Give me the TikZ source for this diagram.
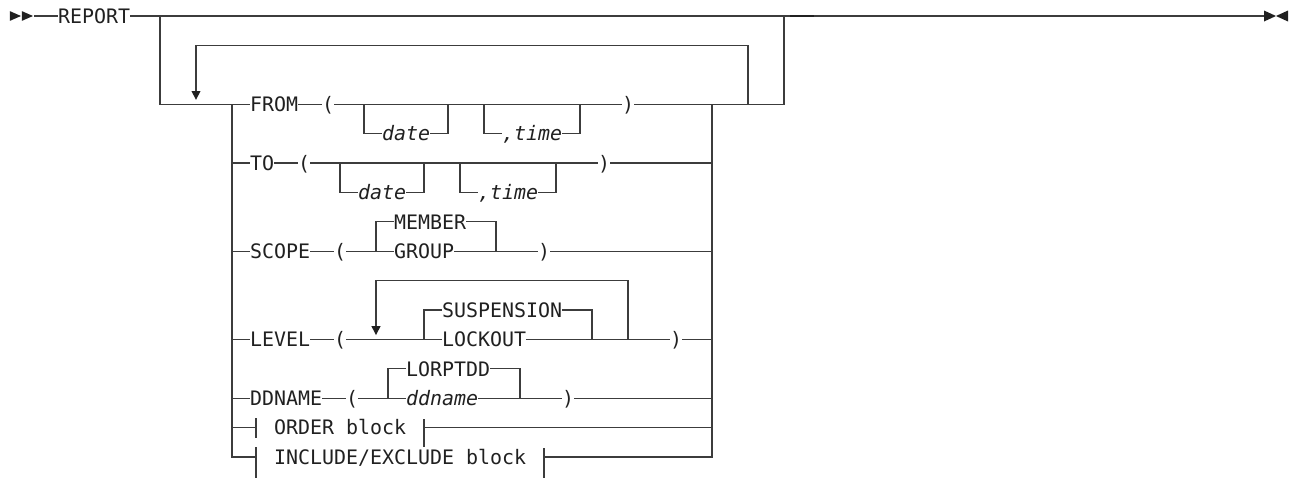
\documentclass[tikz,border=0pt]{standalone}
\usepackage{fontspec}
\newfontfamily\mono{DejaVu Sans Mono}
\definecolor{railc}{HTML}{3C3C3C}
\definecolor{txtc}{HTML}{202020}
\tikzset{
  rail/.style={draw=railc, line width=1.3pt, line join=miter},
  lbl/.style={font=\mono\fontsize{19.93}{24}\selectfont, text=txtc, inner sep=0pt,
              text height=14.4pt, text depth=0pt, anchor=west},
  var/.style={lbl, font=\mono\itshape\fontsize{19.93}{24}\selectfont},
  tip/.style={fill=txtc, draw=none},
}
\begin{document}
\begin{tikzpicture}[x=12pt, y=-29.4pt]
\useasboundingbox (-19.33333,-0.54422) rectangle (89,15.68027);

% ---------------- main line ----------------
\coordinate (st) at (-18.5,0);
\fill[tip] ([xshift=0pt]st) ++(0,4.8pt) -- ++(11pt,-4.8pt) -- ++(-11pt,-4.8pt) -- cycle;
\fill[tip] ([xshift=12pt]st) ++(0,4.8pt) -- ++(11pt,-4.8pt) -- ++(-11pt,-4.8pt) -- cycle;
\coordinate (s1) at (-16.5,0);
\node[lbl] (report) at (-14.5,0) {REPORT};
\coordinate (endp) at (86,0);
\draw[rail] (s1) -- (report.west);
\draw[rail] (report.east) -- (endp);
\fill[tip] (endp) ++(0,5.5pt) -- ++(12pt,-5.5pt) -- ++(-12pt,-5.5pt) -- cycle;
\fill[tip] ([xshift=24pt]endp) ++(0,5.5pt) -- ++(-12pt,-5.5pt) -- ++(12pt,-5.5pt) -- cycle;
\coordinate (dk1) at (46.5,0);
\coordinate (dk2) at (48.5,0);
\draw[draw=txtc, line width=2pt] (dk1) -- (dk2);

% bypass / outer stack
\coordinate (b0) at (-6,0);
\coordinate (b3) at (-6,3);
\coordinate (L3) at (0,3);
\coordinate (L15) at (0,15);
\coordinate (R3) at (40,3);
\coordinate (R15) at (40,15);
\coordinate (o0) at (46,0);
\coordinate (o3) at (46,3);
\draw[rail] (b0) -- (b3) -- (L3);
\draw[rail] (R3) -- (o3) -- (o0);

% repeat loop
\coordinate (lp3) at (43,3);
\coordinate (lp1) at (43,1);
\coordinate (la1) at (-3,1);
\coordinate (la3) at (-3,3);
\draw[rail] (lp3) -- (lp1) -- (la1) -- ([yshift=12pt]la3);
\fill[tip] ([yshift=4.4pt]la3) -- ++(-4.6pt,8.8pt) -- ++(9.2pt,0) -- cycle;

% ---------------- FROM ----------------
\node[lbl] (from) at (1.5,3) {FROM};
\node[lbl] (fl) at (7.5,3) {(};
\node[var] (fdate) at (12.5,4) {date};
\node[var] (ftime) at (22.5,4) {,time};
\node[lbl] (fr) at (32.5,3) {)};
\draw[rail] (L3) -- (from.west);
\draw[rail] (from.east) -- (fl.west);
\draw[rail] (fl.east) -- (fr.west);
\draw[rail] (fr.east) -- (R3);
\draw[rail] (11,3) -- (11,4) -- (fdate.west);
\draw[rail] (fdate.east) -- (18,4) -- (18,3);
\draw[rail] (21,3) -- (21,4) -- (ftime.west);
\draw[rail] (ftime.east) -- (29,4) -- (29,3);

% ---------------- TO ----------------
\node[lbl] (to) at (1.5,5) {TO};
\node[lbl] (tl) at (5.5,5) {(};
\node[var] (tdate) at (10.5,6) {date};
\node[var] (ttime) at (20.5,6) {,time};
\node[lbl] (tr) at (30.5,5) {)};
\draw[rail] (0,5) -- (to.west);
\draw[rail] (to.east) -- (tl.west);
\draw[rail] (tl.east) -- (tr.west);
\draw[rail] (tr.east) -- (40,5);
\draw[rail] (9,5) -- (9,6) -- (tdate.west);
\draw[rail] (tdate.east) -- (16,6) -- (16,5);
\draw[rail] (19,5) -- (19,6) -- (ttime.west);
\draw[rail] (ttime.east) -- (27,6) -- (27,5);

% ---------------- SCOPE ----------------
\node[lbl] (scope) at (1.5,8) {SCOPE};
\node[lbl] (sl) at (8.5,8) {(};
\node[lbl] (member) at (13.5,7) {MEMBER};
\node[lbl] (group) at (13.5,8) {GROUP};
\node[lbl] (sr) at (25.5,8) {)};
\draw[rail] (0,8) -- (scope.west);
\draw[rail] (scope.east) -- (sl.west);
\draw[rail] (sl.east) -- (group.west);
\draw[rail] (12,8) -- (12,7) -- (member.west);
\draw[rail] (member.east) -- (22,7) -- (22,8);
\draw[rail] (group.east) -- (sr.west);
\draw[rail] (sr.east) -- (40,8);

% ---------------- LEVEL ----------------
\node[lbl] (level) at (1.5,11) {LEVEL};
\node[lbl] (ll) at (8.5,11) {(};
\node[lbl] (susp) at (17.5,10) {SUSPENSION};
\node[lbl] (lock) at (17.5,11) {LOCKOUT};
\node[lbl] (lr) at (36.5,11) {)};
\draw[rail] (0,11) -- (level.west);
\draw[rail] (level.east) -- (ll.west);
\draw[rail] (ll.east) -- (lock.west);
\draw[rail] (16,11) -- (16,10) -- (susp.west);
\draw[rail] (susp.east) -- (30,10) -- (30,11);
\draw[rail] (lock.east) -- (lr.west);
\draw[rail] (lr.east) -- (40,11);
\coordinate (lv) at (12,11);
\draw[rail] (33,11) -- (33,9) -- (12,9) -- ([yshift=12pt]lv);
\fill[tip] ([yshift=4.4pt]lv) -- ++(-4.6pt,8.8pt) -- ++(9.2pt,0) -- cycle;

% ---------------- DDNAME ----------------
\node[lbl] (ddn) at (1.5,13) {DDNAME};
\node[lbl] (dl) at (9.5,13) {(};
\node[lbl] (lorp) at (14.5,12) {LORPTDD};
\node[var] (ddname) at (14.5,13) {ddname};
\node[lbl] (dr) at (27.5,13) {)};
\draw[rail] (0,13) -- (ddn.west);
\draw[rail] (ddn.east) -- (dl.west);
\draw[rail] (dl.east) -- (ddname.west);
\draw[rail] (13,13) -- (13,12) -- (lorp.west);
\draw[rail] (lorp.east) -- (24,12) -- (24,13);
\draw[rail] (ddname.east) -- (dr.west);
\draw[rail] (dr.east) -- (40,13);

% ---------------- ORDER block ----------------
\node[lbl] (order) at (3.5,14) {ORDER block};
\coordinate (ot1) at (2,14);
\coordinate (ot2) at (16,14);
\draw[rail] (0,14) -- (ot1);
\draw[rail] ([yshift=9.5pt]ot1) -- ([yshift=-10pt]ot1);
\draw[rail] ([yshift=8.5pt]ot2) -- ([yshift=-19pt]ot2);
\draw[rail] (ot2) -- (40,14);

% ---------------- INCLUDE/EXCLUDE block ----------------
\node[lbl] (incl) at (3.5,15) {INCLUDE/EXCLUDE block};
\coordinate (it1) at (2,15);
\coordinate (it2) at (26,15);
\draw[rail] (L3) -- (L15) -- (it1);
\draw[rail] ([yshift=10pt]it1) -- ([yshift=-21pt]it1);
\draw[rail] ([yshift=9pt]it2) -- ([yshift=-21pt]it2);
\draw[rail] (it2) -- (R15) -- (R3);
\end{tikzpicture}
\end{document}
